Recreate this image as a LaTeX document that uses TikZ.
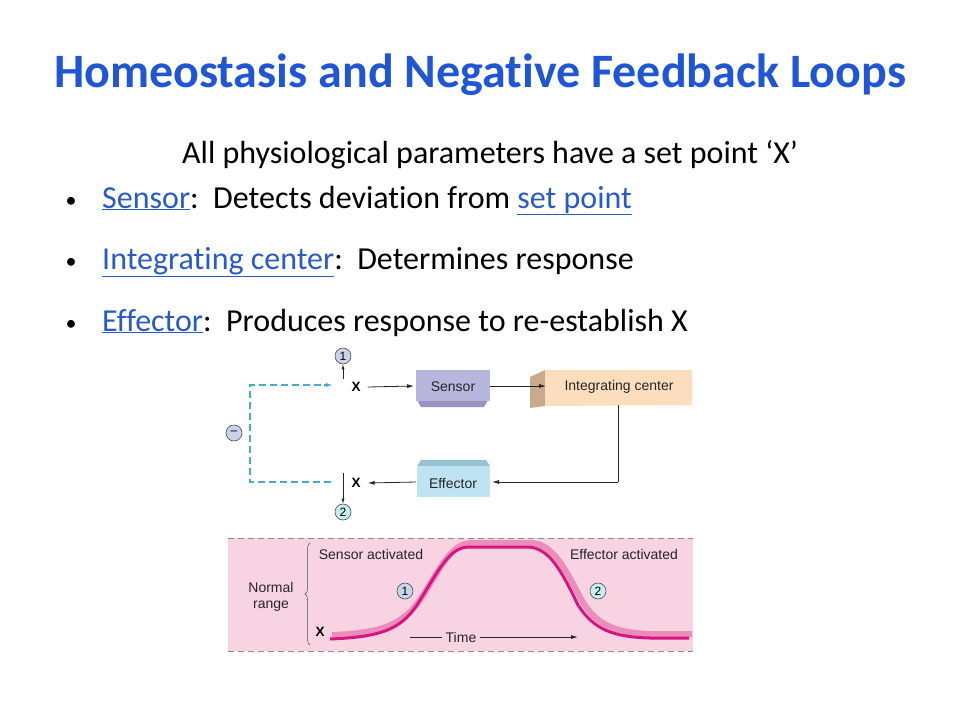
\documentclass[tikz,border=0pt]{standalone}
\usepackage{fontspec}
\setmainfont{Carlito}[Ligatures=NoCommon]
\newfontfamily\figfont{Liberation Sans}
\usetikzlibrary{arrows.meta,decorations.pathreplacing,calc}
\definecolor{titleblue}{RGB}{31,86,214}
\definecolor{linkblue}{RGB}{40,90,200}
\definecolor{sensorc}{RGB}{184,182,220}
\definecolor{sensord}{RGB}{150,148,190}
\definecolor{integc}{RGB}{252,222,190}
\definecolor{integd}{RGB}{200,170,140}
\definecolor{effc}{RGB}{190,228,243}
\definecolor{effd}{RGB}{150,195,212}
\definecolor{dashblue}{RGB}{70,170,210}
\definecolor{pinkbg}{RGB}{248,212,226}
\definecolor{magenta1}{RGB}{214,22,128}
\definecolor{magenta2}{RGB}{236,140,186}
\definecolor{circ1}{RGB}{205,210,235}
\definecolor{circ2}{RGB}{200,238,240}
\tikzset{
  x=1pt,y=-1pt,
  arr/.style={-{Latex[length=7pt,width=4pt]}, line width=0.8pt, black!85},
  lab/.style={font=\figfont\fontsize{14}{16}\selectfont, text=black!85},
  xlab/.style={font=\figfont\bfseries\fontsize{13.5}{14}\selectfont, inner sep=1pt},
  num/.style={circle, draw=black!70, line width=0.6pt, inner sep=0pt, minimum size=16pt, font=\figfont\fontsize{12}{12}\selectfont},
  bodytext/.style={font=\fontsize{32}{36}\selectfont, anchor=base west, inner sep=0pt},
  bulletn/.style={font=\fontsize{22}{26}\selectfont, anchor=base, inner sep=0pt},
}
\newcommand{\lnk}[1]{\textcolor{linkblue}{\underline{#1}}}
\begin{document}
\begin{tikzpicture}
\useasboundingbox (0,0) rectangle (960,720);
\fill[white] (0,0) rectangle (960,720);
% title
\node[font=\bfseries\fontsize{48}{52}\selectfont, text=titleblue, anchor=base] (title) at (480,87) {Homeostasis and Negative Feedback Loops};
\node[bodytext, anchor=base] (sub) at (490,163) {All physiological parameters have a set point ‘X’};
\node[bulletn] (b1) at (71,207) {•};
\node[bodytext] (t1) at (102,208) {\lnk{Sensor}:\ \ Detects deviation from \lnk{set point}};
\node[bulletn] (b2) at (71,268) {•};
\node[bodytext] (t2) at (102,269) {\lnk{Integrating center}:\ \ Determines response};
\node[bulletn] (b3) at (71,330) {•};
\node[bodytext] (t3) at (102,331) {\lnk{Effector}:\ \ Produces response to re-establish X};

% ---- feedback loop diagram
% sensor box
\fill[sensord] (417,400) -- (488,400) -- (484,407) -- (421,407) -- cycle;
\fill[sensorc] (416,370) rectangle (490,401);
\node[lab] (sensor) at (453,387) {Sensor};
% integrating center
\fill[integd] (530,377) -- (545,370) -- (545,406) -- (530,408) -- cycle;
\fill[integc] (545,370) -- (692,370) -- (692,405) -- (545,406) -- cycle;
\node[lab] (integ) at (619,387) {Integrating center};
% effector
\fill[effd] (421,460) -- (486,460) -- (490,466) -- (417,466) -- cycle;
\fill[effc] (417,466) rectangle (490,497);
\node[lab] (eff) at (453,483) {Effector};

\coordinate (sensorW) at (414,386);
\coordinate (sensorE) at (490,386);
\coordinate (integW) at (546,386);
\coordinate (integS) at (618,405);
\coordinate (effE) at (492,482);
\coordinate (effW) at (416,482);

\node[xlab] (x1) at (356,387) {X};
\node[xlab] (x2) at (356,483) {X};
\node[num, fill=circ1] (n1) at (343,356) {1};
\node[num, fill=circ2] (n2) at (343,512) {2};
\node[num, fill=circ1] (minus) at (234,433) {\raisebox{0.5pt}{–}};

\draw[arr] ($(x1.east)+(6,0)$) -- (sensorW);
\draw[arr] (sensorE) -- (integW);
\draw[line width=0.8pt, black!85] (integS) -- (618,482) coordinate (corner);
\draw[arr] (corner) -- (effE);
\draw[arr] (effW) -- ($(x2.east)+(6,0)$);
\draw[-{Latex[length=5pt,width=3pt]}, line width=0.6pt, black!85] (343,379) -- (n1.south);
\draw[-{Latex[length=5pt,width=3pt]}, line width=0.6pt, black!85] (343,473) -- (n2.north);
\draw[dashblue, line width=1.1pt, dash pattern=on 7pt off 4pt] (331,482) -- (250,482) -- (250,385) -- (326,385);
\draw[dashblue, -{Latex[length=7pt,width=4pt]}, line width=1.1pt] (324,385) -- (333,385);

% ---- graph
\fill[pinkbg] (228,538) rectangle (693,651);
\draw[black!45, line width=1pt, dash pattern=on 6pt off 4pt] (228,538) -- (693,538);
\draw[black!45, line width=1pt, dash pattern=on 6pt off 4pt] (228,651) -- (693,651);
\draw[black!70, line width=0.5pt, decorate, decoration={brace, amplitude=5pt}] (310,645) -- (310,543);
\node[lab, align=center, font=\figfont\fontsize{14}{16}\selectfont] (normal) at (271,597) {Normal\\range};
\node[lab] (sact) at (371,554) {Sensor activated};
\node[lab] (eact) at (624,554) {Effector activated};
\node[xlab] (xg) at (320,632) {X};
% curve ribbon
\draw[magenta2, line width=6pt, line join=round]
 (332,635) .. controls (382,633) and (402,625) .. (420,600)
 .. controls (442,565) and (452,543) .. (472,543) -- (530,543)
 .. controls (552,543) and (564,566) .. (582,601)
 .. controls (598,627) and (618,633) .. (652,634) -- (692,634);
\draw[magenta1, line width=3pt, line join=round]
 (330,639) .. controls (380,637) and (400,630) .. (417,605)
 .. controls (439,570) and (449,547) .. (469,547) -- (527,547)
 .. controls (549,547) and (561,570) .. (578,605)
 .. controls (594,630) and (614,637) .. (650,638) -- (689,638);
\node[num, fill=circ1] (g1) at (405,591) {1};
\node[num, fill=circ2] (g2) at (598,591) {2};
\node[lab] (time) at (461,637) {Time};
\draw[line width=0.8pt, black!85] (410,637) -- (time.west);
\draw[arr] (time.east) -- (578,637);
\end{tikzpicture}
\end{document}
